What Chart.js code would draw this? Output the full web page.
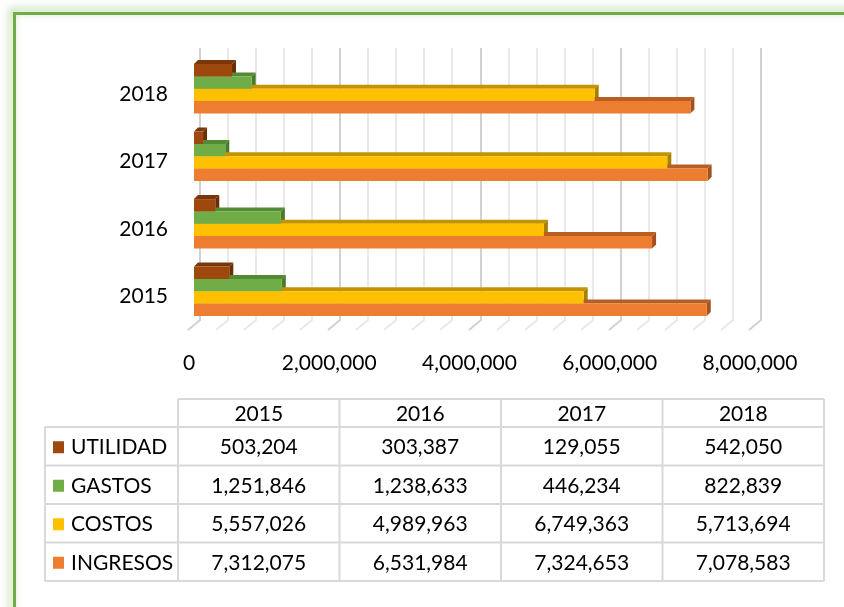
<!DOCTYPE html>
<html>
<head>
<meta charset="utf-8">
<script src="https://cdn.jsdelivr.net/npm/chart.js@4.4.1/dist/chart.umd.min.js"></script>
<style>
  html, body { margin: 0; padding: 0; background: #fff; }
</style>
</head>
<body>
<canvas id="myChart" width="844" height="607"></canvas>
<script>
// data
const years = ["2015", "2016", "2017", "2018"];
const seriesNames = ["UTILIDAD", "GASTOS", "COSTOS", "INGRESOS"];
const utilidad = [503204, 303387, 129055, 542050];
const gastos = [1251846, 1238633, 446234, 822839];
const costos = [5557026, 4989963, 6749363, 5713694];
const ingresos = [7312075, 6531984, 7324653, 7078583];
const axisMax = 8000000;
const gridStep = 400000;
const labelStep = 2000000;

const seriesValues = [utilidad, gastos, costos, ingresos];
const frontColors = ["#9e480e", "#70ad47", "#ffc000", "#ed7d31"];
const topColors = ["#7a3608", "#558a34", "#c49400", "#b85e21"];
const sideColors = ["#6a2e06", "#4a7a2c", "#a88000", "#a4511b"];

const FONT = "Lato, 'Open Sans', sans-serif";
const depth = 4;

function fmt(v) {
  return v.toLocaleString("en-US");
}

// green frame with soft glow
const framePlugin = {
  id: "frame",
  beforeDraw(chart) {
    const ctx = chart.ctx;
    ctx.save();
    ctx.fillStyle = "#fff";
    ctx.fillRect(0, 0, chart.width, chart.height);
    ctx.shadowColor = "rgba(112,173,71,0.7)";
    ctx.shadowBlur = 8;
    ctx.shadowOffsetX = -3;
    ctx.shadowOffsetY = -3;
    ctx.strokeStyle = "#70ad47";
    ctx.lineWidth = 3;
    ctx.beginPath();
    ctx.moveTo(14.5, chart.height + 20);
    ctx.lineTo(14.5, 13.5);
    ctx.lineTo(chart.width + 20, 13.5);
    ctx.stroke();
    ctx.restore();
  }
};

// back-wall gridlines + floor, then the 3D faces of the bars
const depthPlugin = {
  id: "depth",
  beforeDatasetsDraw(chart) {
    const ctx = chart.ctx;
    const xs = chart.scales.x;
    const area = chart.chartArea;
    ctx.save();
    ctx.lineWidth = 2;
    xs.ticks.forEach(t => {
      const px = Math.round(xs.getPixelForValue(t.value));
      ctx.strokeStyle = t.value % labelStep === 0 ? "#d2d2d2" : "#e9e9e9";
      ctx.beginPath();
      ctx.moveTo(px + 6, area.top - 7);
      ctx.lineTo(px + 6, area.bottom - 5);
      ctx.lineTo(px - 6, area.bottom + 5);
      ctx.stroke();
    });

    chart.data.datasets.forEach((ds, i) => {
      const meta = chart.getDatasetMeta(i);
      meta.data.forEach(bar => {
        const top = bar.y - bar.height / 2;
        const bottom = bar.y + bar.height / 2;
        const left = bar.base;
        const right = bar.x;
        ctx.fillStyle = topColors[i];
        ctx.beginPath();
        ctx.moveTo(left, top);
        ctx.lineTo(left + depth, top - depth);
        ctx.lineTo(right + depth, top - depth);
        ctx.lineTo(right, top);
        ctx.closePath();
        ctx.fill();
        ctx.fillStyle = sideColors[i];
        ctx.beginPath();
        ctx.moveTo(right, top);
        ctx.lineTo(right + depth, top - depth);
        ctx.lineTo(right + depth, bottom - depth);
        ctx.lineTo(right, bottom);
        ctx.closePath();
        ctx.fill();
      });
    });
    ctx.restore();
  }
};

// data table under the chart
const tablePlugin = {
  id: "dataTable",
  afterDraw(chart) {
    const ctx = chart.ctx;
    const left = 45, keyRight = 178, right = 824;
    const headTop = 399, headBottom = 427, rowH = 38.5;
    const colW = (right - keyRight) / years.length;
    const bottom = headBottom + rowH * seriesNames.length;

    ctx.save();
    ctx.strokeStyle = "#d9d9d9";
    ctx.lineWidth = 2;
    ctx.beginPath();
    ctx.moveTo(keyRight, headTop);
    ctx.lineTo(right, headTop);
    for (let r = 0; r <= seriesNames.length; r++) {
      const y = headBottom + rowH * r;
      ctx.moveTo(left, y);
      ctx.lineTo(right, y);
    }
    ctx.moveTo(left, headBottom);
    ctx.lineTo(left, bottom);
    for (let c = 0; c <= years.length; c++) {
      const x = keyRight + colW * c;
      ctx.moveTo(x, headTop);
      ctx.lineTo(x, bottom);
    }
    ctx.stroke();

    ctx.font = "21px " + FONT;
    ctx.fillStyle = "#000";
    ctx.textBaseline = "middle";
    ctx.textAlign = "center";
    years.forEach((y, c) => {
      ctx.fillText(y, keyRight + colW * (c + 0.5), (headTop + headBottom) / 2 + 1);
    });

    seriesNames.forEach((name, r) => {
      const cy = headBottom + rowH * (r + 0.5) + 1;
      ctx.fillStyle = frontColors[r];
      ctx.fillRect(53, cy - 6, 11, 12);
      ctx.fillStyle = "#000";
      ctx.textAlign = "left";
      ctx.fillText(name, 71, cy);
      ctx.textAlign = "center";
      seriesValues[r].forEach((v, c) => {
        ctx.fillText(fmt(v), keyRight + colW * (c + 0.5), cy);
      });
    });
    ctx.restore();
  }
};

const ctx = document.getElementById("myChart").getContext("2d");
const myChart = new Chart(ctx, {
  type: "bar",
  data: {
    labels: years,
    datasets: seriesNames.map((name, i) => ({
      label: name,
      data: seriesValues[i],
      backgroundColor: frontColors[i],
      borderWidth: 0,
      barPercentage: 1,
      categoryPercentage: 0.73
    }))
  },
  options: {
    indexAxis: "y",
    responsive: false,
    animation: false,
    devicePixelRatio: 1,
    layout: { padding: { top: 55, right: 89, left: 0, bottom: 0 } },
    plugins: {
      legend: { display: false },
      tooltip: { enabled: false }
    },
    scales: {
      x: {
        min: 0,
        max: axisMax,
        border: { display: false },
        grid: { display: false, drawTicks: false },
        ticks: {
          stepSize: gridStep,
          autoSkip: false,
          maxRotation: 0,
          padding: 26,
          labelOffset: -5,
          color: "#000",
          font: { family: FONT, size: 21 },
          callback: v => (v % labelStep === 0 ? fmt(v) : "")
        },
        afterFit: s => { s.height = 282; }
      },
      y: {
        reverse: true,
        border: { display: false },
        grid: { display: false, drawTicks: false },
        ticks: {
          padding: 26,
          labelOffset: 5,
          color: "#000",
          font: { family: FONT, size: 21 }
        },
        afterFit: s => { s.width = 194; }
      }
    }
  },
  plugins: [framePlugin, depthPlugin, tablePlugin]
});
</script>
</body>
</html>
